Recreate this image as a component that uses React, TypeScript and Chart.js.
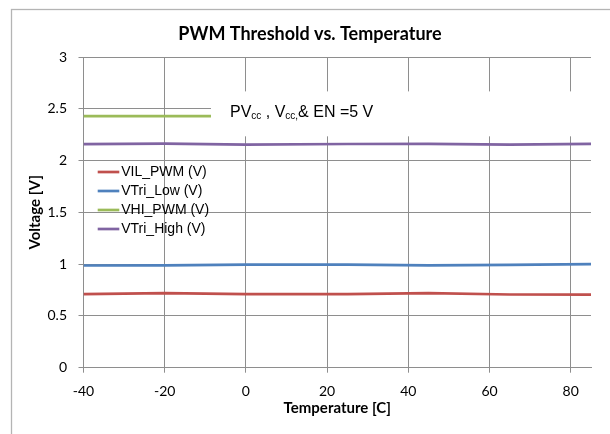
import React, { useEffect, useRef } from 'react';
import { Chart, registerables } from 'chart.js';

Chart.register(...registerables);

// ---- data ----
const temperatures = [-40, -20, 0, 25, 45, 65, 85];
const vilPwm = [0.711, 0.72, 0.711, 0.711, 0.72, 0.707, 0.705];
const vtriLow = [0.987, 0.988, 0.995, 0.995, 0.988, 0.993, 1.0];
const vhiPwm = [2.43, 2.43, 2.43, 2.43, 2.43, 2.43, 2.43];
const vtriHigh = [2.158, 2.163, 2.153, 2.16, 2.162, 2.153, 2.162];

const seriesNames = ['VIL_PWM (V)', 'VTri_Low (V)', 'VHI_PWM (V)', 'VTri_High (V)'];
const seriesValues = [vilPwm, vtriLow, vhiPwm, vtriHigh];
const seriesColors = ['#C0504D', '#4F81BD', '#9BBB59', '#8064A2'];

const xTickLabels = ['-40', '-20', '0', '20', '40', '60', '80'];
const yTickLabels = ['0', '0.5', '1', '1.5', '2', '2.5', '3'];

const chartTitle = 'PWM Threshold vs. Temperature';
const xAxisTitle = 'Temperature [C]';
const yAxisTitle = 'Voltage [V]';
// annotation: PVcc , Vcc,& EN =5 V  (parts: [text, isSubscript])
const noteParts: [string, boolean][] = [
  ['PV', false],
  ['cc', true],
  [' , V', false],
  ['cc,', true],
  ['& EN =5 V', false],
];

const GRID = '#8E8E8E';

const framePlugin = {
  id: 'frame',
  beforeDraw(chart: any) {
    const { ctx } = chart;
    ctx.save();
    ctx.fillStyle = '#ffffff';
    ctx.fillRect(0, 0, chart.width, chart.height);
    ctx.strokeStyle = '#B4B4B4';
    ctx.lineWidth = 1.3;
    ctx.strokeRect(11.5, 9.5, chart.width + 20, chart.height + 20);
    ctx.restore();
  },
  afterDraw(chart: any) {
    const { ctx } = chart;
    ctx.save();
    ctx.fillStyle = '#000';
    ctx.font = 'bold 18px Lato';
    ctx.textAlign = 'center';
    ctx.textBaseline = 'middle';
    ctx.fillText(chartTitle, 310, 34);
    ctx.restore();
  },
};

const overlayPlugin = {
  id: 'overlay',
  afterDatasetsDraw(chart: any) {
    const { ctx, chartArea } = chart;
    const x = chart.scales.x;
    const y = chart.scales.y;
    ctx.save();
    // annotation text box (white, covers grid and line beneath)
    const bl = x.getPixelForValue(-8.6);
    const bt = y.getPixelForValue(2.668);
    const bb = y.getPixelForValue(2.234);
    ctx.fillStyle = '#ffffff';
    ctx.fillRect(bl, bt, chart.width - bl, bb - bt);
    let tx = bl + 19;
    const base = bt + 25.7;
    ctx.fillStyle = '#000';
    ctx.textAlign = 'left';
    ctx.textBaseline = 'alphabetic';
    for (const [t, sub] of noteParts) {
      ctx.font = sub ? '10px "Liberation Sans"' : '16px "Liberation Sans"';
      ctx.fillText(t, tx, sub ? base + 2 : base);
      tx += ctx.measureText(t).width;
    }
    // legend
    const lx = chartArea.left + 14.2;
    const ly = chartArea.top + 115;
    ctx.font = '14px "Liberation Sans"';
    ctx.textBaseline = 'middle';
    seriesNames.forEach((name, i) => {
      const ry = ly + i * 19;
      ctx.strokeStyle = seriesColors[i];
      ctx.lineWidth = 2.7;
      ctx.beginPath();
      ctx.moveTo(lx, ry);
      ctx.lineTo(lx + 21.6, ry);
      ctx.stroke();
      ctx.fillStyle = '#000';
      ctx.fillText(name, lx + 23.5, ry + 0.5);
    });
    ctx.restore();
  },
};

export default function App() {
  const ref = useRef<HTMLCanvasElement | null>(null);
  useEffect(() => {
    if (!ref.current) return;
    const chart = new Chart(ref.current, {
      type: 'line',
      data: {
        datasets: seriesNames.map((name, i) => ({
          label: name,
          data: temperatures.map((t, j) => ({ x: t, y: seriesValues[i][j] })),
          borderColor: seriesColors[i],
          backgroundColor: seriesColors[i],
          borderWidth: 2.7,
          pointRadius: 0,
          tension: 0,
          fill: false,
        })),
      },
      options: {
        animation: false,
        responsive: false,
        devicePixelRatio: 1,
        layout: { padding: { left: 12, right: 19, top: 57, bottom: 0 } },
        plugins: {
          legend: { display: false },
          title: { display: false },
          tooltip: { enabled: false },
        },
        scales: {
          x: {
            type: 'linear',
            min: -40,
            max: 85,
            afterFit: (s: any) => { s.height = 66.3; },
            ticks: {
              stepSize: 20,
              includeBounds: false,
              padding: 10,
              color: '#000',
              font: { family: 'Lato', size: 14 },
              callback: (v: any) => {
                const idx = (Number(v) + 40) / 20;
                return xTickLabels[idx] ?? '';
              },
            },
            grid: { color: GRID, lineWidth: 1, drawTicks: true, tickLength: 5 },
            border: { display: true, color: GRID, width: 1 },
            title: {
              display: true,
              text: xAxisTitle,
              color: '#000',
              font: { family: 'Lato', size: 15, weight: 'bold' },
              padding: { top: 0, bottom: 17 },
            },
          },
          y: {
            type: 'linear',
            min: 0,
            max: 3,
            afterFit: (s: any) => { s.width = 71.5; },
            ticks: {
              stepSize: 0.5,
              padding: 11.5,
              color: '#000',
              font: { family: 'Lato', size: 14 },
              callback: (v: any) => {
                const idx = Math.round(Number(v) / 0.5);
                return yTickLabels[idx] ?? '';
              },
            },
            grid: { color: GRID, lineWidth: 1, drawTicks: true, tickLength: 5 },
            border: { display: true, color: GRID, width: 1 },
            title: {
              display: true,
              text: yAxisTitle,
              color: '#000',
              font: { family: 'Lato', size: 15, weight: 'bold' },
              padding: { top: 14, bottom: 0 },
            },
          },
        },
      } as any,
      plugins: [framePlugin, overlayPlugin],
    });
    return () => chart.destroy();
  }, []);
  return (
    <div style={{ position: 'absolute', left: 0, top: 0, width: 610, height: 434 }}>
      <canvas ref={ref} width={610} height={434} style={{ display: 'block' }} />
    </div>
  );
}
